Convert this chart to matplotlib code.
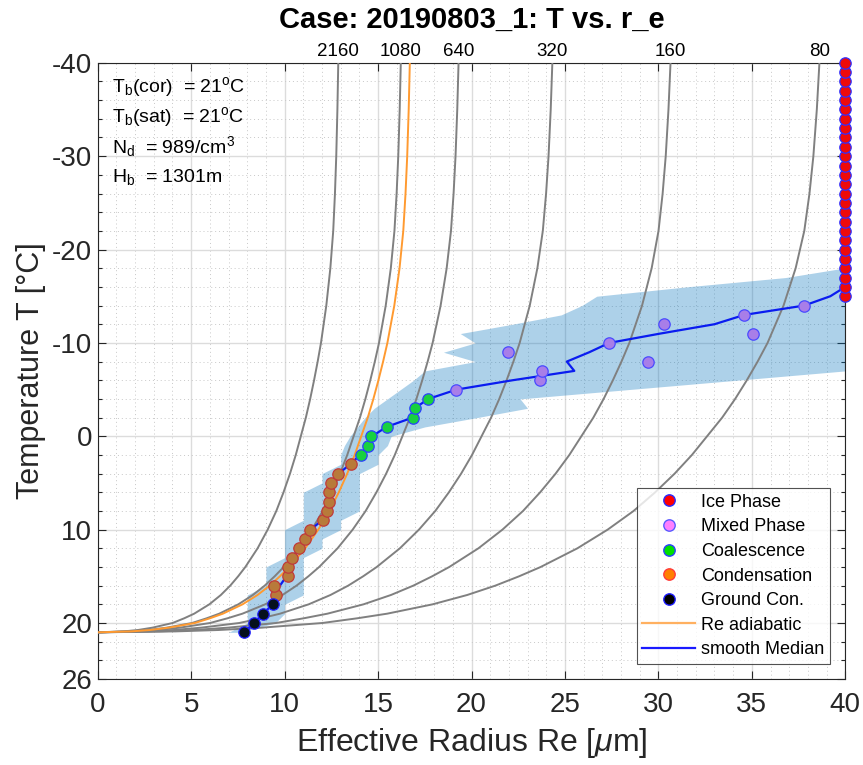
import matplotlib
matplotlib.use("Agg")
import matplotlib.pyplot as plt
from matplotlib.lines import Line2D
from matplotlib.ticker import MultipleLocator, FixedLocator
import matplotlib.transforms as mtransforms
from matplotlib import font_manager
import numpy as np

plt.rcParams['font.family'] = ['Liberation Sans', 'DejaVu Sans']
plt.rcParams['mathtext.fontset'] = 'custom'
plt.rcParams['mathtext.rm'] = 'Liberation Sans'
plt.rcParams['mathtext.it'] = 'Liberation Sans:italic'

names = {f.name for f in font_manager.fontManager.ttflist}
narrow = 'Liberation Sans Narrow' if 'Liberation Sans Narrow' in names else 'Liberation Sans'

# ---- observed profile: one point per 1 degC, from cloud base (21) upward ----
ground_T = [21, 20, 19, 18]
ground_r = [7.85, 8.35, 8.86, 9.36]

cond_T = [17, 16, 15, 14, 13, 12, 11, 10, 9, 8, 7, 6, 5, 4, 3]
cond_r = [9.54, 9.45, 10.16, 10.16, 10.38, 10.77, 11.07, 11.38, 12.05, 12.29,
          12.39, 12.39, 12.47, 12.88, 13.57]

coal_T = [2, 1, 0, -1, -2, -3, -4]
coal_r = [14.07, 14.46, 14.64, 15.47, 16.85, 16.96, 17.69]

mixed_T = [-5, -6, -7, -8, -9, -10, -11, -12, -13, -14]
mixed_r = [19.19, 23.68, 23.77, 29.46, 21.97, 27.37, 35.08, 30.30, 34.58, 37.79]

ice_T = list(range(-15, -41, -1))
ice_r = [40.0] * len(ice_T)

# ---- smoothed median profile ----
med_T = [21, 20, 19, 18, 17, 16, 15, 14, 13, 12, 11, 10, 9, 8, 7, 6, 5, 4, 3, 2,
         1, 0, -1, -2, -3, -4, -5, -6, -7, -8, -9, -10, -11, -12, -13, -14, -15,
         -16, -40]
med_r = [7.85, 8.35, 8.86, 9.36, 9.5, 9.75, 10.1, 10.2, 10.4, 10.8, 11.1, 11.4,
         12.0, 12.3, 12.4, 12.45, 12.5, 12.9, 13.5, 14.05, 14.45, 14.68, 15.45,
         16.85, 16.96, 17.69, 19.2, 22.2, 25.5, 25.1, 26.3, 27.37, 30.1, 33.0,
         34.6, 37.8, 39.2, 40.0, 40.0]

# ---- inter-quantile band (lower / upper radius per temperature) ----
band_T = [21, 20, 19, 18, 17, 16, 15, 14, 13, 12, 11, 10, 9, 8, 7, 6, 5, 4, 3,
          2, 1, 0, -1, -2, -3, -4, -5, -6, -7, -8, -9, -10, -11, -12, -13, -14,
          -15, -16, -17, -18]
band_lo = [7.0, 8.0, 8.0, 8.0, 8.0, 9.0, 9.0, 9.0, 10.0, 10.0, 10.0, 10.0, 11.0,
           11.0, 11.0, 11.0, 12.0, 12.0, 13.0, 13.0, 13.2, 13.5, 13.9, 14.3,
           14.8, 15.5, 16.2, 16.9, 17.5, 20.2, 18.5, 20.2, 19.4, 22.2, 24.8,
           25.9, 26.7, 31.5, 36.8, 39.9]
band_hi = [7.6, 9.5, 10.0, 10.0, 11.0, 11.0, 11.0, 11.0, 11.0, 12.0, 12.0, 13.0,
           13.0, 14.0, 14.0, 14.0, 14.0, 14.0, 15.0, 15.0, 15.5, 15.7, 17.5,
           20.3, 23.0, 22.6, 28.4, 34.2, 40.0, 40.0, 40.0, 40.0, 40.0, 40.0,
           40.0, 40.0, 40.0, 40.0, 40.0, 40.0]

# ---- adiabatic effective radius for Nd = 989 cm^-3 ----
adiab_N = 989
adiab_T = [21, 20.9, 20.75, 20.5, 20, 19.5, 19, 18, 17, 16, 15, 14, 12, 10, 8,
           6, 4, 2, 0, -2, -4, -6, -8, -10, -14, -18, -22, -26, -30, -35, -40]
adiab_r = [0.0, 1.8, 2.8, 3.8, 5.2, 6.0, 6.7, 7.75, 8.55, 9.2, 9.75, 10.25,
           11.1, 11.8, 12.4, 12.9, 13.35, 13.75, 14.1, 14.45, 14.75, 15.02,
           15.27, 15.5, 15.87, 16.15, 16.35, 16.47, 16.56, 16.64, 16.7]

# reference droplet concentrations (cm^-3) for the grey adiabats
ref_N = [2160, 1080, 640, 320, 160, 80]

info_lines = [r'T$_\mathrm{b}$(cor)  = 21$^\mathrm{o}$C',
              r'T$_\mathrm{b}$(sat)  = 21$^\mathrm{o}$C',
              r'N$_\mathrm{d}$  = 989/cm$^\mathrm{3}$',
              r'H$_\mathrm{b}$  = 1301m']

ytick_vals = [-40, -30, -20, -10, 0, 10, 20, 26]

fig = plt.figure(figsize=(8.63, 7.65), dpi=100)
ax = fig.add_axes([0.1132, 0.1124, 0.8663, 0.8055])

txt_col = '#262626'

# band
ax.fill_betweenx(band_T, band_lo, band_hi, color='#0072bd', alpha=0.32,
                 linewidth=0, zorder=2)

# grey adiabats for reference concentrations, scaled as r ~ N^(-1/3)
T_a = np.array(adiab_T)
r_a = np.array(adiab_r)
for N in ref_N:
    ax.plot(r_a * (adiab_N / N) ** (1 / 3), T_a, color='#808080', lw=1.4,
            zorder=3, solid_joinstyle='round')

ax.plot(adiab_r, adiab_T, color='#ff9a30', lw=1.4, zorder=4,
        solid_joinstyle='round')
ax.plot(med_r, med_T, color='#0a1cf0', lw=1.6, zorder=5)

mk = dict(marker='o', linestyle='none', markersize=8.2, markeredgewidth=0.9,
          zorder=6, clip_on=False)
ax.plot(ice_r, ice_T, markerfacecolor='#ee0a0a', markeredgecolor='#3030ff', **mk)
ax.plot(mixed_r, mixed_T, markerfacecolor='#a87ee8', markeredgecolor='#4a4aff', **mk)
ax.plot(coal_r, coal_T, markerfacecolor='#18d040', markeredgecolor='#2a40ff', **mk)
ax.plot(cond_r, cond_T, markerfacecolor='#b87a3a', markeredgecolor='#c03a3a', **mk)
ax.plot(ground_r, ground_T, markerfacecolor='#05101e', markeredgecolor='#2020ff', **mk)

# labels of the grey adiabats along the top edge
blend = mtransforms.blended_transform_factory(ax.transData, ax.transAxes)
for N in ref_N:
    x_top = adiab_r[-1] * (adiab_N / N) ** (1 / 3)
    ax.text(x_top, 1.004, str(N), transform=blend, ha='center', va='bottom',
            fontsize=13.5, family=[narrow, 'DejaVu Sans'], color='black')

for i, s in enumerate(info_lines):
    ax.text(0.0187, 0.961 - i * 0.0487, s, transform=ax.transAxes,
            fontsize=14, color='black', va='center', ha='left')

ax.set_xlim(0, 40)
ax.set_ylim(26, -40)
ax.xaxis.set_major_locator(MultipleLocator(5))
ax.xaxis.set_minor_locator(MultipleLocator(1))
ax.yaxis.set_major_locator(FixedLocator(ytick_vals))
ax.yaxis.set_minor_locator(MultipleLocator(2))
ax.set_yticklabels([str(v) for v in ytick_vals])

ax.grid(which='major', color='#dcdcdc', lw=1.0, zorder=0)
ax.grid(which='minor', color='#c8c8c8', lw=0.7, linestyle=(0, (1, 3)), zorder=0)
ax.set_axisbelow(True)

ax.tick_params(which='both', direction='in', top=True, right=True,
               colors=txt_col, labelsize=20, width=0.8)
ax.tick_params(which='major', length=6)
ax.tick_params(axis='y', which='minor', length=3)
ax.tick_params(axis='x', which='minor', length=0)
ax.tick_params(axis='x', pad=9)
ax.tick_params(axis='y', pad=4)
for sp in ax.spines.values():
    sp.set_color(txt_col)
    sp.set_linewidth(0.8)

ax.set_xlabel(r'Effective Radius Re [$\mu$m]', fontsize=23, color=txt_col,
              labelpad=6)
ax.set_ylabel('Temperature T [°C]', fontsize=22, color=txt_col, labelpad=4)
ax.set_title('Case: 20190803_1: T vs. r_e', fontsize=21, fontweight='bold',
             family=[narrow, 'DejaVu Sans'], pad=25)

handles = [
    Line2D([], [], marker='o', ls='none', ms=8.2, mfc='#ff0000', mec='#2a2aff'),
    Line2D([], [], marker='o', ls='none', ms=8.2, mfc='#ff80ff', mec='#5a5aff'),
    Line2D([], [], marker='o', ls='none', ms=8.2, mfc='#00e000', mec='#2a40ff'),
    Line2D([], [], marker='o', ls='none', ms=8.2, mfc='#ff7f00', mec='#ff3a3a'),
    Line2D([], [], marker='o', ls='none', ms=8.2, mfc='#000000', mec='#2020ff'),
    Line2D([], [], color='#ffb060', lw=1.6),
    Line2D([], [], color='#1a1aff', lw=1.6),
]
labels = ['Ice Phase', 'Mixed Phase', 'Coalescence', 'Condensation',
          'Ground Con.', 'Re adiabatic', 'smooth Median']
leg = ax.legend(handles, labels, loc='lower right', fontsize=13,
                frameon=True, fancybox=False, edgecolor='#262626',
                borderpad=0.3, labelspacing=0.42, handlelength=2.95,
                handletextpad=0.33, borderaxespad=0.85)
leg.get_frame().set_linewidth(0.8)
leg.set_zorder(10)

fig.savefig('out.png', dpi=100)
